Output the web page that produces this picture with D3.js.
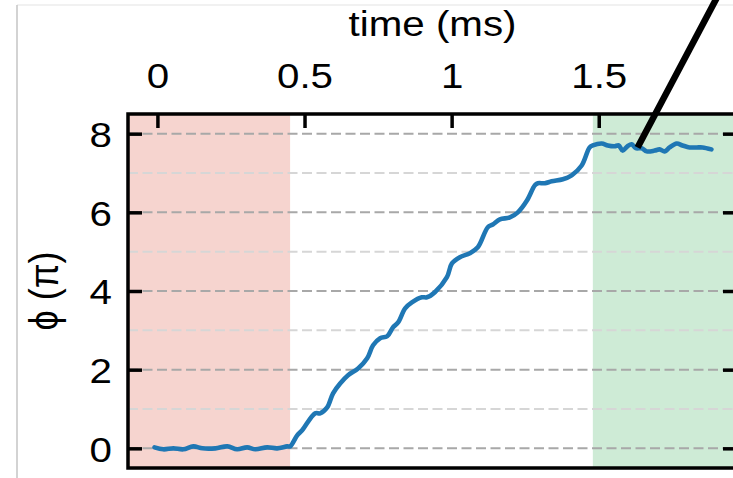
<!DOCTYPE html>
<html>
<head>
<meta charset="utf-8">
<script src="https://cdn.jsdelivr.net/npm/d3@7"></script>
<style>
  html, body { margin: 0; padding: 0; background: #fff; }
  svg { display: block; }
</style>
</head>
<body>
<svg id="chart" width="733" height="478"></svg>
<script>
// Phase trace: time in ms and accumulated phase in units of π
const timeMs = [
  -0.010, 0.020, 0.054, 0.088, 0.122, 0.153, 0.197, 0.238, 0.271, 0.305,
  0.333, 0.373, 0.407, 0.441, 0.451, 0.475, 0.492, 0.536, 0.553, 0.577,
  0.597, 0.621, 0.648, 0.682, 0.713, 0.733, 0.757, 0.781, 0.801, 0.818,
  0.842, 0.865, 0.899, 0.916, 0.943, 0.984, 1.001, 1.028, 1.062, 1.089,
  1.123, 1.140, 1.164, 1.198, 1.225, 1.256, 1.283, 1.293, 1.317, 1.340,
  1.378, 1.408, 1.442, 1.469, 1.480, 1.510, 1.531, 1.554, 1.568, 1.581,
  1.598, 1.612, 1.626, 1.646, 1.663, 1.690, 1.707, 1.724, 1.741, 1.765,
  1.785, 1.809, 1.833, 1.853, 1.883
];
const phasePi = [
  0.025, -0.025, 0.000, -0.025, 0.050, 0.000, 0.000, 0.050, -0.025, 0.025,
  -0.025, 0.025, 0.000, 0.050, 0.050, 0.330, 0.460, 0.890, 0.890, 1.040,
  1.400, 1.650, 1.860, 2.030, 2.290, 2.620, 2.800, 2.850, 3.080, 3.200,
  3.560, 3.710, 3.840, 3.840, 3.970, 4.350, 4.700, 4.860, 4.960, 5.110,
  5.620, 5.690, 5.820, 5.870, 6.000, 6.300, 6.690, 6.740, 6.740, 6.790,
  6.840, 6.940, 7.190, 7.650, 7.700, 7.750, 7.700, 7.680, 7.700, 7.570,
  7.680, 7.730, 7.630, 7.630, 7.550, 7.570, 7.600, 7.550, 7.650, 7.750,
  7.700, 7.650, 7.650, 7.650, 7.600
];

// Axis ticks
const xTickValues = [0, 0.5, 1, 1.5];
const xTickLabels = ["0", "0.5", "1", "1.5"];
const yMajorTicks = [0, 2, 4, 6, 8];
const yMinorTicks = [1, 3, 5, 7];

// Shaded windows (ms)
const prepWindow = [-0.1, 0.451];
const holdWindow = [1.48, 1.97];

// Pointer line leaving the plot (ms, π)
const pointerLine = [[1.632, 7.65], [1.94, 12.0]];

const W = 733, H = 478;
const plot = { left: 128, right: 737, top: 114, bottom: 468 };
const TEXT_SX = 1.12;
const FONT = "'Liberation Sans', Arial, Helvetica, sans-serif";
const FONT_SIZE = "36px";

const svg = d3.select("#chart");

const x = d3.scaleLinear().domain([-0.1, 1.97]).range([plot.left, plot.right]);
const y = d3.scaleLinear().domain([-0.5, 8.5]).range([plot.bottom, plot.top]);

// thin outer frame
svg.append("line").attr("x1", 17).attr("x2", W).attr("y1", 5).attr("y2", 5)
  .attr("stroke", "#ececec").attr("stroke-width", 1.5);
svg.append("line").attr("x1", 17).attr("x2", 17).attr("y1", 5).attr("y2", H)
  .attr("stroke", "#c4c4c4").attr("stroke-width", 1.5);

// shaded windows
svg.append("rect")
  .attr("x", x(prepWindow[0])).attr("width", x(prepWindow[1]) - x(prepWindow[0]))
  .attr("y", plot.top).attr("height", plot.bottom - plot.top)
  .attr("fill", "#f6d4cf");
svg.append("rect")
  .attr("x", x(holdWindow[0])).attr("width", x(holdWindow[1]) - x(holdWindow[0]))
  .attr("y", plot.top).attr("height", plot.bottom - plot.top)
  .attr("fill", "#ceebd6");

// horizontal grid
const grid = svg.append("g");
grid.selectAll("line.minor").data(yMinorTicks).join("line")
  .attr("class", "minor")
  .attr("x1", plot.left).attr("x2", plot.right)
  .attr("y1", d => y(d)).attr("y2", d => y(d))
  .attr("stroke", "#d6d6d6").attr("stroke-width", 2)
  .attr("stroke-dasharray", "10,4.5");
grid.selectAll("line.major").data(yMajorTicks).join("line")
  .attr("class", "major")
  .attr("x1", plot.left).attr("x2", plot.right)
  .attr("y1", d => y(d)).attr("y2", d => y(d))
  .attr("stroke", "#a8a8a8").attr("stroke-width", 2)
  .attr("stroke-dasharray", "10,4.5");

// phase trace
const pts = timeMs.map((t, i) => [t, phasePi[i]]);
svg.append("path")
  .datum(pts)
  .attr("fill", "none")
  .attr("stroke", "#1f77b4")
  .attr("stroke-width", 4.6)
  .attr("stroke-linejoin", "round")
  .attr("stroke-linecap", "round")
  .attr("d", d3.line().x(d => x(d[0])).y(d => y(d[1])).curve(d3.curveCatmullRom.alpha(0.5)));

// axes
function styleAxis(g) {
  g.select(".domain").remove();
  g.selectAll(".tick line").attr("stroke", "#000").attr("stroke-width", 3.5);
  g.selectAll(".tick text")
    .attr("fill", "#000")
    .style("font-family", FONT)
    .style("font-size", FONT_SIZE);
}

const topAxis = d3.axisTop(x)
  .tickValues(xTickValues)
  .tickFormat((d, i) => xTickLabels[i])
  .tickSizeInner(-14).tickSizeOuter(0).tickPadding(26);
svg.append("g").attr("transform", `translate(0,${plot.top})`).call(topAxis).call(styleAxis)
  .selectAll(".tick text").attr("transform", `scale(${TEXT_SX},1)`);

const leftAxis = d3.axisLeft(y)
  .tickValues(yMajorTicks)
  .tickFormat(d3.format("d"))
  .tickSizeInner(-14).tickSizeOuter(0).tickPadding(16 / TEXT_SX);
svg.append("g").attr("transform", `translate(${plot.left},0)`).call(leftAxis).call(styleAxis)
  .selectAll(".tick text").attr("transform", `scale(${TEXT_SX},1)`).attr("dy", "0.36em");

const rightAxis = d3.axisRight(y)
  .tickValues(yMajorTicks)
  .tickFormat("")
  .tickSizeInner(-14).tickSizeOuter(0);
svg.append("g").attr("transform", `translate(${plot.right},0)`).call(rightAxis).call(styleAxis);

// plot frame
svg.append("rect")
  .attr("x", plot.left).attr("y", plot.top)
  .attr("width", plot.right - plot.left).attr("height", plot.bottom - plot.top)
  .attr("fill", "none").attr("stroke", "#000").attr("stroke-width", 3.5);

// axis titles
svg.append("text")
  .attr("transform", `translate(${(plot.left + plot.right) / 2},36) scale(${TEXT_SX},1)`)
  .attr("text-anchor", "middle")
  .style("font-family", FONT).style("font-size", FONT_SIZE)
  .text("time (ms)");

svg.append("text")
  .attr("transform", `translate(58,${(plot.top + plot.bottom) / 2}) rotate(-90) scale(1,${TEXT_SX})`)
  .attr("text-anchor", "middle")
  .style("font-family", FONT).style("font-size", FONT_SIZE)
  .text("ϕ (π)");

// pointer line
svg.append("line")
  .attr("x1", x(pointerLine[0][0])).attr("y1", y(pointerLine[0][1]))
  .attr("x2", x(pointerLine[1][0])).attr("y2", y(pointerLine[1][1]))
  .attr("stroke", "#000").attr("stroke-width", 6.5);
</script>
</body>
</html>
